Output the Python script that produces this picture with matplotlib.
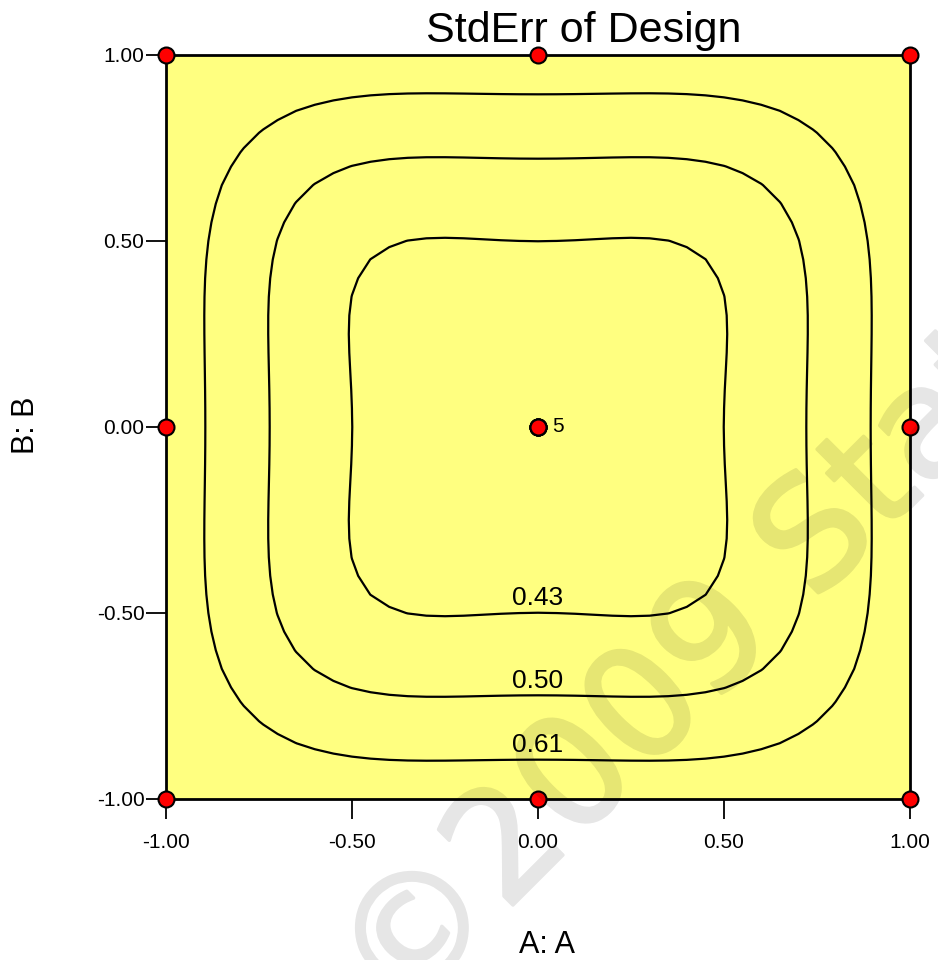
#!/usr/bin/env python3
"""
StdErr of Design contour for a two-factor face-centred central composite
design (quadratic model), with the design runs overlaid.
"""

import numpy as np
import matplotlib
matplotlib.use('Agg')
import matplotlib.pyplot as plt
import matplotlib.patheffects as pe
from matplotlib.ticker import FormatStrFormatter

plt.rcParams['font.family'] = ['Liberation Sans', 'DejaVu Sans']

# ---------------------------------------------------------------------------
# Design runs (coded units) and contour levels
# ---------------------------------------------------------------------------
run_a = [-1, 1, -1, 1, -1, 1, 0, 0, 0, 0, 0, 0, 0]
run_b = [-1, -1, 1, 1, 0, 0, -1, 1, 0, 0, 0, 0, 0]
centre_reps = 5
contour_levels = [0.43, 0.50, 0.61]
tick_values = [-1.0, -0.5, 0.0, 0.5, 1.0]


def model_terms(a, b):
    # intercept, A, B, AB, A^2, B^2
    return np.stack([np.ones_like(a), a, b, a * b, a ** 2, b ** 2], axis=-1)


X = model_terms(np.array(run_a, float), np.array(run_b, float))
xtx_inv = np.linalg.inv(X.T @ X)

grid = np.linspace(-1, 1, 41)
ga, gb = np.meshgrid(grid, grid)
F = model_terms(ga, gb)
stderr = np.sqrt(np.einsum('...i,ij,...j->...', F, xtx_inv, F))


def faint(img, dpi):
    # flatten the stroked text into one layer, then make it translucent
    img = img.copy()
    img[..., 3] *= 0.1
    return img, 0, 0


# ---------------------------------------------------------------------------
# Figure
# ---------------------------------------------------------------------------
W, H = 938, 960
fig = plt.figure(figsize=(W / 100, H / 100), dpi=100)
ax = fig.add_axes([166 / W, 1 - 799 / H, 744 / W, 744 / H])
ax.set_facecolor('#ffff80')

cs = ax.contour(ga, gb, stderr, levels=contour_levels, colors='black',
                linewidths=1.6, zorder=2)

# level labels sit just above the lower branch of each contour at A = 0
for lvl, segs in zip(contour_levels, cs.allsegs):
    pts = np.concatenate(segs)
    low = pts[pts[:, 1] < 0]
    y0 = low[np.argmin(np.abs(low[:, 0])), 1]
    ax.annotate(f'{lvl:.2f}', xy=(0, y0), xytext=(0, 5.5),
                textcoords='offset points', ha='center', va='baseline',
                fontsize=19, zorder=3)

ax.plot(run_a, run_b, 'o', ms=11.5, mfc='#ff0000', mec='black', mew=1.5,
        clip_on=False, zorder=5)
ax.annotate(f'{centre_reps}', xy=(0, 0), xytext=(10, 0),
            textcoords='offset points', ha='left', va='center', fontsize=15)

ax.set_xlim(-1, 1)
ax.set_ylim(-1, 1)
ax.set_xticks(tick_values)
ax.set_yticks(tick_values)
ax.xaxis.set_major_formatter(FormatStrFormatter('%.2f'))
ax.yaxis.set_major_formatter(FormatStrFormatter('%.2f'))
ax.tick_params(direction='out', length=14.5, width=1.3, labelsize=15)
ax.tick_params(axis='x', pad=10)
ax.tick_params(axis='y', pad=1)
for sp in ax.spines.values():
    sp.set_linewidth(2)

fig.text(584 / W, 1 - 42 / H, 'StdErr of Design', fontsize=31,
         ha='center', va='baseline')
fig.text(547 / W, 1 - 953 / H, 'A: A', fontsize=22, ha='center',
         va='baseline')
fig.text(26 / W, 1 - 425 / H, 'B: B', fontsize=22, rotation=90,
         ha='center', va='center')

# watermark
wm = fig.text(397 / W, 1 - 1021 / H, '\u00a92009 Stat-Ease', fontsize=110,
              family='DejaVu Sans', color='black',
              rotation=45, rotation_mode='anchor', ha='left', va='baseline',
              zorder=10)
wm.set_path_effects([pe.withStroke(linewidth=2.5, foreground='black',
                                   capstyle='round', joinstyle='round')])
wm.set_agg_filter(faint)

fig.savefig('out.png', dpi=100)
